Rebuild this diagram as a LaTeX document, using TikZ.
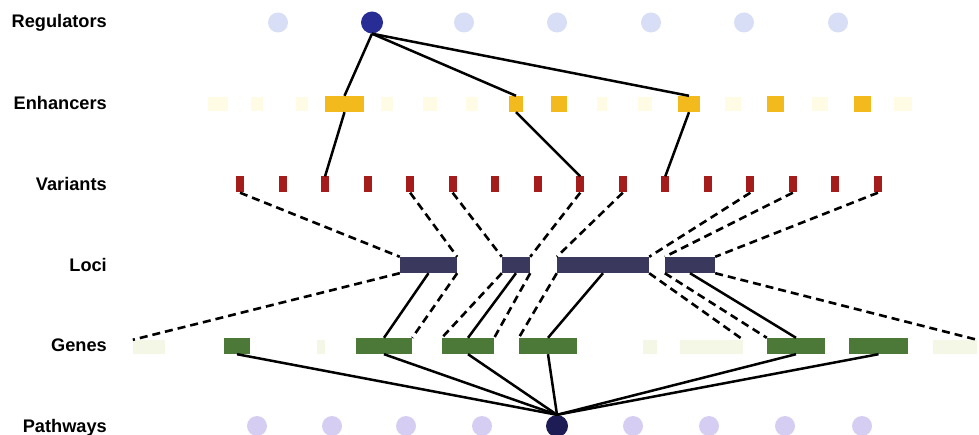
\documentclass[tikz,border=0pt]{standalone}
\usepackage{fontspec}
\setmainfont{Liberation Sans}
\definecolor{regdark}{RGB}{40,45,150}
\definecolor{regfaint}{RGB}{215,222,245}
\definecolor{enhcol}{RGB}{242,186,28}
\definecolor{enhfaint}{RGB}{255,251,228}
\definecolor{varcol}{RGB}{165,28,28}
\definecolor{locuscol}{RGB}{58,56,92}
\definecolor{genecol}{RGB}{76,120,56}
\definecolor{genefaint}{RGB}{244,247,230}
\definecolor{pathdark}{RGB}{30,28,85}
\definecolor{pathfaint}{RGB}{214,206,242}
\tikzset{
  rowlabel/.style={anchor=base east, font=\bfseries\fontsize{18.2}{20}\selectfont, inner sep=0pt},
  regf/.style={circle, fill=regfaint, minimum size=20pt, inner sep=0pt},
  regd/.style={circle, fill=regdark, minimum size=22pt, inner sep=0pt},
  pathf/.style={circle, fill=pathfaint, minimum size=20pt, inner sep=0pt},
  pathd/.style={circle, fill=pathdark, minimum size=22pt, inner sep=0pt},
  enh/.style={rectangle, fill=enhcol, minimum height=16pt, inner sep=0pt},
  enhf/.style={rectangle, fill=enhfaint, minimum height=14pt, inner sep=0pt},
  varbox/.style={rectangle, fill=varcol, minimum width=8pt, minimum height=16pt, inner sep=0pt},
  locus/.style={rectangle, fill=locuscol, minimum height=16pt, inner sep=0pt},
  gene/.style={rectangle, fill=genecol, minimum height=16pt, inner sep=0pt},
  genef/.style={rectangle, fill=genefaint, minimum height=14pt, inner sep=0pt},
  link/.style={draw=black, line width=2.5pt},
  dlink/.style={draw=black, line width=2.6pt, dash pattern=on 8pt off 5pt}
}
\begin{document}
\begin{tikzpicture}[x=1pt,y=-1pt]
\useasboundingbox (0,0) rectangle (979,435);
% labels
\node[rowlabel] (lreg) at (107,28) {Regulators};
\node[rowlabel] (lenh) at (107,110) {Enhancers};
\node[rowlabel] (lvar) at (107,191) {Variants};
\node[rowlabel] (lloc) at (107,272) {Loci};
\node[rowlabel] (lgen) at (107,352) {Genes};
\node[rowlabel] (lpat) at (107,432) {Pathways};
% regulators
\foreach \x [count=\i] in {278,464,557,651,744,838}
  \node[regf] (rf\i) at (\x,22.5) {};
\node[regd] (reg) at (372,22.5) {};
% enhancers faint
\foreach \x/\w [count=\i] in {218/20,257/12,302/12,387/12,430/14,472/12,602/10,645/14,733/16,820/16,903/18}
  \node[enhf, minimum width=\w pt] (ef\i) at (\x,104) {};
\node[enh, minimum width=39pt] (e1) at (344.5,104) {};
\node[enh, minimum width=14pt] (e2) at (516,104) {};
\node[enh, minimum width=16pt] (e3) at (559,104) {};
\node[enh, minimum width=22pt] (e4) at (689,104) {};
\node[enh, minimum width=17pt] (e5) at (775.5,104) {};
\node[enh, minimum width=17pt] (e6) at (862.5,104) {};
% variants
\foreach \i in {0,...,15}
  \node[varbox] (v\i) at ({240+42.53*\i},184.5) {};
% loci
\node[locus, minimum width=57pt] (l1) at (428.5,265) {};
\node[locus, minimum width=28pt] (l2) at (516,265) {};
\node[locus, minimum width=92pt] (l3) at (603,265) {};
\node[locus, minimum width=50pt] (l4) at (690,265) {};
% genes
\node[genef, minimum width=32pt] (gf1) at (149,347) {};
\node[genef, minimum width=8pt] (gf2) at (321,347) {};
\node[genef, minimum width=14pt] (gf3) at (650,347) {};
\node[genef, minimum width=63pt] (gf4) at (711.5,347) {};
\node[genef, minimum width=44pt] (gf5) at (955,347) {};
\node[gene, minimum width=26pt] (g1) at (237,346) {};
\node[gene, minimum width=56pt] (g2) at (384,346) {};
\node[gene, minimum width=52pt] (g3) at (468,346) {};
\node[gene, minimum width=58pt] (g4) at (548,346) {};
\node[gene, minimum width=58pt] (g5) at (796,346) {};
\node[gene, minimum width=59pt] (g6) at (878.5,346) {};
% pathways
\foreach \x [count=\i] in {257,332,406,482,633,709,785,862}
  \node[pathf] (pf\i) at (\x,426) {};
\node[pathd] (path) at (557,426) {};
% regulator -> enhancers
\draw[link] (reg.south) -- (e1.north);
\draw[link] (reg.south) -- (e2.north);
\draw[link] (reg.south) -- (e4.north);
% enhancers -> variants
\draw[link] (e1.south) -- (v2.north);
\draw[link] (e2.south) -- (v8.north);
\draw[link] (e4.south) -- (v10.north);
% variants -> loci
\draw[dlink] (v0.south) -- (l1.north west);
\draw[dlink] (v4.south) -- (l1.north east);
\draw[dlink] (v5.south) -- (l2.north west);
\draw[dlink] (v8.south) -- (l2.north east);
\draw[dlink] (v9.south) -- (l3.north west);
\draw[dlink] (v12.south) -- (l3.north east);
\draw[dlink] (v13.south) -- (l4.north west);
\draw[dlink] (v15.south) -- (l4.north east);
% loci -> genes
\draw[dlink] (l1.south west) -- (gf1.north west);
\draw[link] (l1.south) -- (g2.north);
\draw[dlink] (l1.south east) -- (g2.north east);
\draw[dlink] (l2.south west) -- (g3.north west);
\draw[link] (l2.south) -- (g3.north);
\draw[dlink] (l2.south east) -- (g3.north east);
\draw[dlink] (l3.south west) -- (g4.north west);
\draw[link] (l3.south) -- (g4.north);
\draw[dlink] (l3.south east) -- (gf4.north east);
\draw[dlink] (l4.south west) -- (g5.north west);
\draw[link] (l4.south) -- (g5.north);
\draw[dlink] (l4.south east) -- (gf5.north east);
% genes -> pathway
\foreach \g in {g1,g2,g3,g4,g5,g6}
  \draw[link] (\g.south) -- (path.north);
\end{tikzpicture}
\end{document}
